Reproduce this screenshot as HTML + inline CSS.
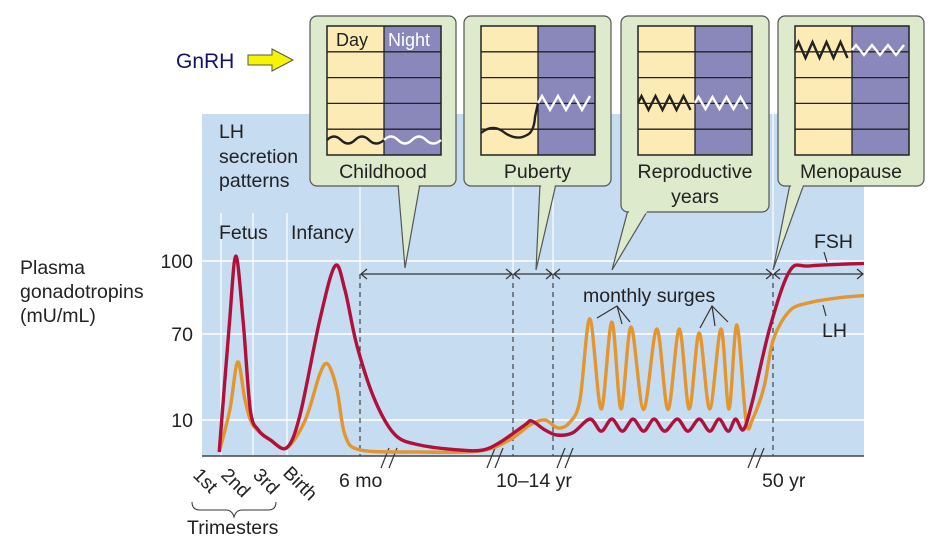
<!DOCTYPE html>
<html><head><meta charset="utf-8">
<style>
html,body{margin:0;padding:0;background:#fff;}
svg{display:block;font-family:"Liberation Sans",sans-serif;}
</style></head>
<body>
<svg id="chart" width="942" height="548" viewBox="0 0 942 548">
  <rect x="202" y="114" width="662" height="342" fill="#c6dcf1"/>
  <g id="grid"></g>
  <g id="annot"></g>
  <g id="series"></g>
  <g id="boxes"></g>
  <g id="labels">
    <text x="20" y="274" font-size="19.5" fill="#222">Plasma</text>
    <text x="20" y="298" font-size="19.5" fill="#222">gonadotropins</text>
    <text x="20" y="322" font-size="19.5" fill="#222">(mU/mL)</text>
    <text x="176" y="68" font-size="21" fill="#12126a">GnRH</text>
    <polygon points="248,55 272,55 272,49 293,60 272,71 272,65 248,65" fill="#f5f500" stroke="#555" stroke-width="1"/>
    <text x="219" y="138" font-size="19.5" fill="#222">LH</text>
    <text x="219" y="163" font-size="19.5" fill="#222">secretion</text>
    <text x="219" y="187" font-size="19.5" fill="#222">patterns</text>
    <text x="219" y="239" font-size="19.5" fill="#222">Fetus</text>
    <text x="291" y="239" font-size="19.5" fill="#222">Infancy</text>
    <text x="583" y="302" font-size="19.5" fill="#222">monthly surges</text>
    <text x="814" y="248" font-size="19.5" fill="#222">FSH</text>
    <text x="822" y="337" font-size="19.5" fill="#222">LH</text>
    <text x="339" y="487" font-size="19.5" fill="#222">6 mo</text>
    <text x="496" y="487" font-size="19.5" fill="#222">10–14 yr</text>
    <text x="762" y="487" font-size="19.5" fill="#222">50 yr</text>
    <text transform="translate(192,476) rotate(45)" font-size="19" fill="#222">1st</text>
    <text transform="translate(220,476) rotate(45)" font-size="19" fill="#222">2nd</text>
    <text transform="translate(252,476) rotate(45)" font-size="19" fill="#222">3rd</text>
    <text transform="translate(282,474) rotate(45)" font-size="19" fill="#222">Birth</text>
    <path d="M192,502 Q192,510 200,510 L226,510 Q232,510 234,517 Q236,510 242,510 L268,510 Q276,510 276,502" fill="none" stroke="#333" stroke-width="1"/>
    <text x="187" y="534" font-size="19.5" fill="#222">Trimesters</text>
  </g>
</svg>
<script>
// ---- data ----
const yTickValues = [10, 70, 100];
const yTickLabels = ["10", "70", "100"];
// timeline position (0-100 across plot) and concentration (mU/mL)
const fshT = [2.6,4.1,5.1,6.2,7.3,8.5,10.3,12.8,14.8,17.8,20.1,21.6,23.4,26.1,29.2,32.9,39,42.4,45,48.8,49.8,51.8,53.6,56,58.6,60.3,61.9,63.5,65.1,66.7,68.3,69.9,71.8,73.4,75.1,76.7,78.1,79.5,80.6,81.8,83.2,85.8,88.8,91.8,100];
const fshV = [0,72.8,102,75.8,17,6.9,3.8,1.3,13.5,75.8,98,88,62,24,5.3,2.2,0.6,0.6,3,8.5,9.7,6.9,5.3,6,10.6,6.5,10.6,6.5,10.6,6.5,10.6,6.5,10.6,6.5,10.6,6.5,10.6,6.5,10.6,7,24,72.8,96,98,99];
const lhT = [2.6,4.2,5.4,6.5,7.7,10.3,12.8,15.6,17.8,19,20.4,21.6,24,33,42,46.5,49.5,51.8,53.8,55.6,57.1,58.6,60.3,61.9,63.3,64.8,66.7,68.7,70.4,72.1,73.6,75.1,76.7,78.4,79.6,80.8,82.2,83.2,84.9,86.3,88.8,91.8,96.3,100];
const lhV = [0,17,50.5,24,8.4,3.8,1.3,10,42,49,31,5.3,0.6,0,0.3,3.8,8.4,10,7.5,9.4,24,76.2,17.7,74.9,17.7,72.9,17.3,72.1,17.3,72.1,17.7,70.4,17.7,72.1,17.7,73.7,9.4,11,33,66,79.6,82.9,84.9,85.8];

// ---- scales ----
const X0 = 202, X1 = 864;
function xs(t){ return X0 + t*(X1-X0)/100; }
const yDom = [0,10,70,100], yRng = [452,420,334,261];
function ys(v){
  for (let i=0;i<yDom.length-1;i++){
    if (v<=yDom[i+1] || i===yDom.length-2){
      const a=yDom[i],b=yDom[i+1];
      return yRng[i]+(v-a)*(yRng[i+1]-yRng[i])/(b-a);
    }
  }
}
const NS="http://www.w3.org/2000/svg";
function mk(tag, attrs, parent){
  const e=document.createElementNS(NS,tag);
  for(const k in attrs) e.setAttribute(k,attrs[k]);
  parent.appendChild(e); return e;
}
const grid=document.getElementById('grid');
const annot=document.getElementById('annot');
const series=document.getElementById('series');
const boxes=document.getElementById('boxes');
const labels=document.getElementById('labels');

yTickValues.forEach((v,i)=>{
  const l=mk('line',{x1:X0,x2:X1,y1:ys(v),y2:ys(v),stroke:'#fff','stroke-width':1.5},grid);
  
  
  const t=mk('text',{x:193,y:ys(v)+7,'font-size':19.5,fill:'#222','text-anchor':'end'},labels);
  t.textContent=yTickLabels[i];
  
  
});
[221,253,287].forEach((x)=>{
  const l=mk('line',{x1:x,x2:x,y1:213,y2:456,stroke:'#fff','stroke-width':1.2},grid);
  
  
});
[360,513,553,773].forEach(x=>{
  const l=mk('line',{x1:x,x2:x,y1:114,y2:274,stroke:'#fff','stroke-width':1.2},grid);
  
  
  const d=mk('line',{x1:x,x2:x,y1:274,y2:456,stroke:'#222','stroke-width':1,'stroke-dasharray':'5,4'},annot);
  
  
});
[[360,513],[513,553],[553,773],[773,864]].forEach(s=>{
  const y=274;
  const g=mk('g',{stroke:'#333','stroke-width':1.2,fill:'none'},annot);
  
  
  mk('line',{x1:s[0]+1,x2:s[1]-1,y1:y,y2:y},g);
  mk('path',{d:`M${s[0]+7},${y-5} L${s[0]+1},${y} L${s[0]+7},${y+5}`},g);
  mk('path',{d:`M${s[1]-7},${y-5} L${s[1]-1},${y} L${s[1]-7},${y+5}`},g);
});
const bl=mk('line',{x1:X0,x2:X1,y1:456,y2:456,stroke:'#444','stroke-width':1.5},annot);


[387,493,563,754].forEach(x=>{
  const g=mk('g',{stroke:'#333','stroke-width':1.2},annot);
  
  
  mk('line',{x1:x-6,y1:468,x2:x+2,y2:448},g);
  mk('line',{x1:x+2,y1:468,x2:x+10,y2:448},g);
});
const lead=mk('g',{stroke:'#333','stroke-width':1.2,fill:'none'},annot);


mk('path',{d:'M597,318 L617,306 L630,322 M617,306 L622,324'},lead);
mk('path',{d:'M700,328 L712,306 L728,322 M712,306 L715,326'},lead);
mk('line',{x1:824,y1:252,x2:827,y2:262},lead);
mk('line',{x1:823,y1:305,x2:826,y2:316},lead);

function smooth(T,V){
  const p=T.map((t,i)=>[xs(t),ys(V[i])]);
  let d=`M${p[0][0].toFixed(1)},${p[0][1].toFixed(1)}`;
  for(let i=0;i<p.length-1;i++){
    const p0=p[i-1]||p[i], p1=p[i], p2=p[i+1], p3=p[i+2]||p[i+1];
    const k=0.16;
    const c1=[p1[0]+(p2[0]-p0[0])*k, p1[1]+(p2[1]-p0[1])*k];
    const c2=[p2[0]-(p3[0]-p1[0])*k, p2[1]-(p3[1]-p1[1])*k];
    d+=` C${c1[0].toFixed(1)},${c1[1].toFixed(1)} ${c2[0].toFixed(1)},${c2[1].toFixed(1)} ${p2[0].toFixed(1)},${p2[1].toFixed(1)}`;
  }
  return d;
}
const lh=mk('path',{d:smooth(lhT,lhV),fill:'none',stroke:'#e3962f','stroke-width':3.4,'stroke-linejoin':'round'},series);


const fsh=mk('path',{d:smooth(fshT,fshV),fill:'none',stroke:'#b0103a','stroke-width':3.4,'stroke-linejoin':'round'},series);



const boxDefs=[
 {name:'childhood',x:310,w:146,h:170,label:['Childhood'],tail:[398,420,405,268],pat:'child'},
 {name:'puberty',x:464,w:147,h:170,label:['Puberty'],tail:[540,556,536,270],pat:'pub'},
 {name:'reproductive',x:621,w:148,h:196,label:['Reproductive','years'],tail:[628,648,612,270],pat:'rep'},
 {name:'menopause',x:778,w:146,h:170,label:['Menopause'],tail:[790,804,773,270],pat:'men'}
];
function zig(x0,x1,y,amp,step){
  let d=`M${x0},${y}`; let up=true;
  for(let x=x0+step/2;x<=x1;x+=step){ d+=` L${x},${y+(up?-amp:amp)}`; up=!up; }
  return d;
}
boxDefs.forEach(b=>{
  const g=mk('g',{},boxes);
  
  
  const yb=16+b.h;
  mk('polygon',{points:`${b.tail[0]},${yb-2} ${b.tail[1]},${yb-2} ${b.tail[2]},${b.tail[3]}`,fill:'#ddeacb',stroke:'#555','stroke-width':1.2},g);
  mk('rect',{x:b.x,y:16,width:b.w,height:b.h,rx:7,fill:'#ddeacb',stroke:'#555','stroke-width':1.2},g);
  mk('polygon',{points:`${b.tail[0]+1},${yb-3} ${b.tail[1]-1},${yb-3} ${b.tail[1]-1.5},${yb+1.5} ${b.tail[0]+1.2},${yb+1.5}`,fill:'#ddeacb'},g);
  const ix=b.x+17, iw=114, iy=26, ih=129, mid=ix+57;
  mk('rect',{x:ix,y:iy,width:57,height:ih,fill:'#fdebb6'},g);
  mk('rect',{x:mid,y:iy,width:57,height:ih,fill:'#8a87bb'},g);
  for(let r=1;r<5;r++){ mk('line',{x1:ix,x2:ix+iw,y1:iy+r*ih/5,y2:iy+r*ih/5,stroke:'#222','stroke-width':1.3},g); }
  mk('line',{x1:mid,x2:mid,y1:iy,y2:iy+ih,stroke:'#222','stroke-width':1.3},g);
  mk('rect',{x:ix,y:iy,width:iw,height:ih,fill:'none',stroke:'#222','stroke-width':1.5},g);
  if(b.name==='childhood'){
    const t1=mk('text',{x:ix+9,y:iy+20,'font-size':18,fill:'#222'},g); t1.textContent='Day';
     
    const t2=mk('text',{x:mid+4,y:iy+20,'font-size':18,fill:'#fff'},g); t2.textContent='Night';
     
  }
  const S={fill:'none','stroke-width':2.4,'stroke-linejoin':'miter'};
  if(b.pat==='child'){
    mk('path',Object.assign({d:`M${ix},${140} q7,-7 14,0 t14,0 t14,0 t15,0`,stroke:'#222'},S),g);
    mk('path',Object.assign({d:`M${mid},${140} q7,-7 14,0 t14,0 t14,0 t15,0`,stroke:'#fff'},S),g);
  } else if(b.pat==='pub'){
    mk('path',Object.assign({d:`M${ix},${133} q12,-10 24,0 q12,8 22,2 q7,-3 8,-18 L${mid},103`,stroke:'#222'},S),g);
    mk('path',Object.assign({d:zig(mid,ix+iw,103,7,8),stroke:'#fff'},S),g);
  } else if(b.pat==='rep'){
    mk('path',Object.assign({d:zig(ix,mid,103,7,7),stroke:'#222'},S),g);
    mk('path',Object.assign({d:zig(mid,ix+iw,103,6,7),stroke:'#fff'},S),g);
  } else {
    mk('path',Object.assign({d:zig(ix,mid,50,8,7),stroke:'#222'},S),g);
    mk('path',Object.assign({d:zig(mid,ix+iw,50,5,8),stroke:'#fff'},S),g);
  }
  b.label.forEach((s,i)=>{
    const t=mk('text',{x:b.x+b.w/2,y:178+i*25,'font-size':19.5,fill:'#222','text-anchor':'middle'},g);
    t.textContent=s;
    
    
  });
});
</script>
</body></html>
